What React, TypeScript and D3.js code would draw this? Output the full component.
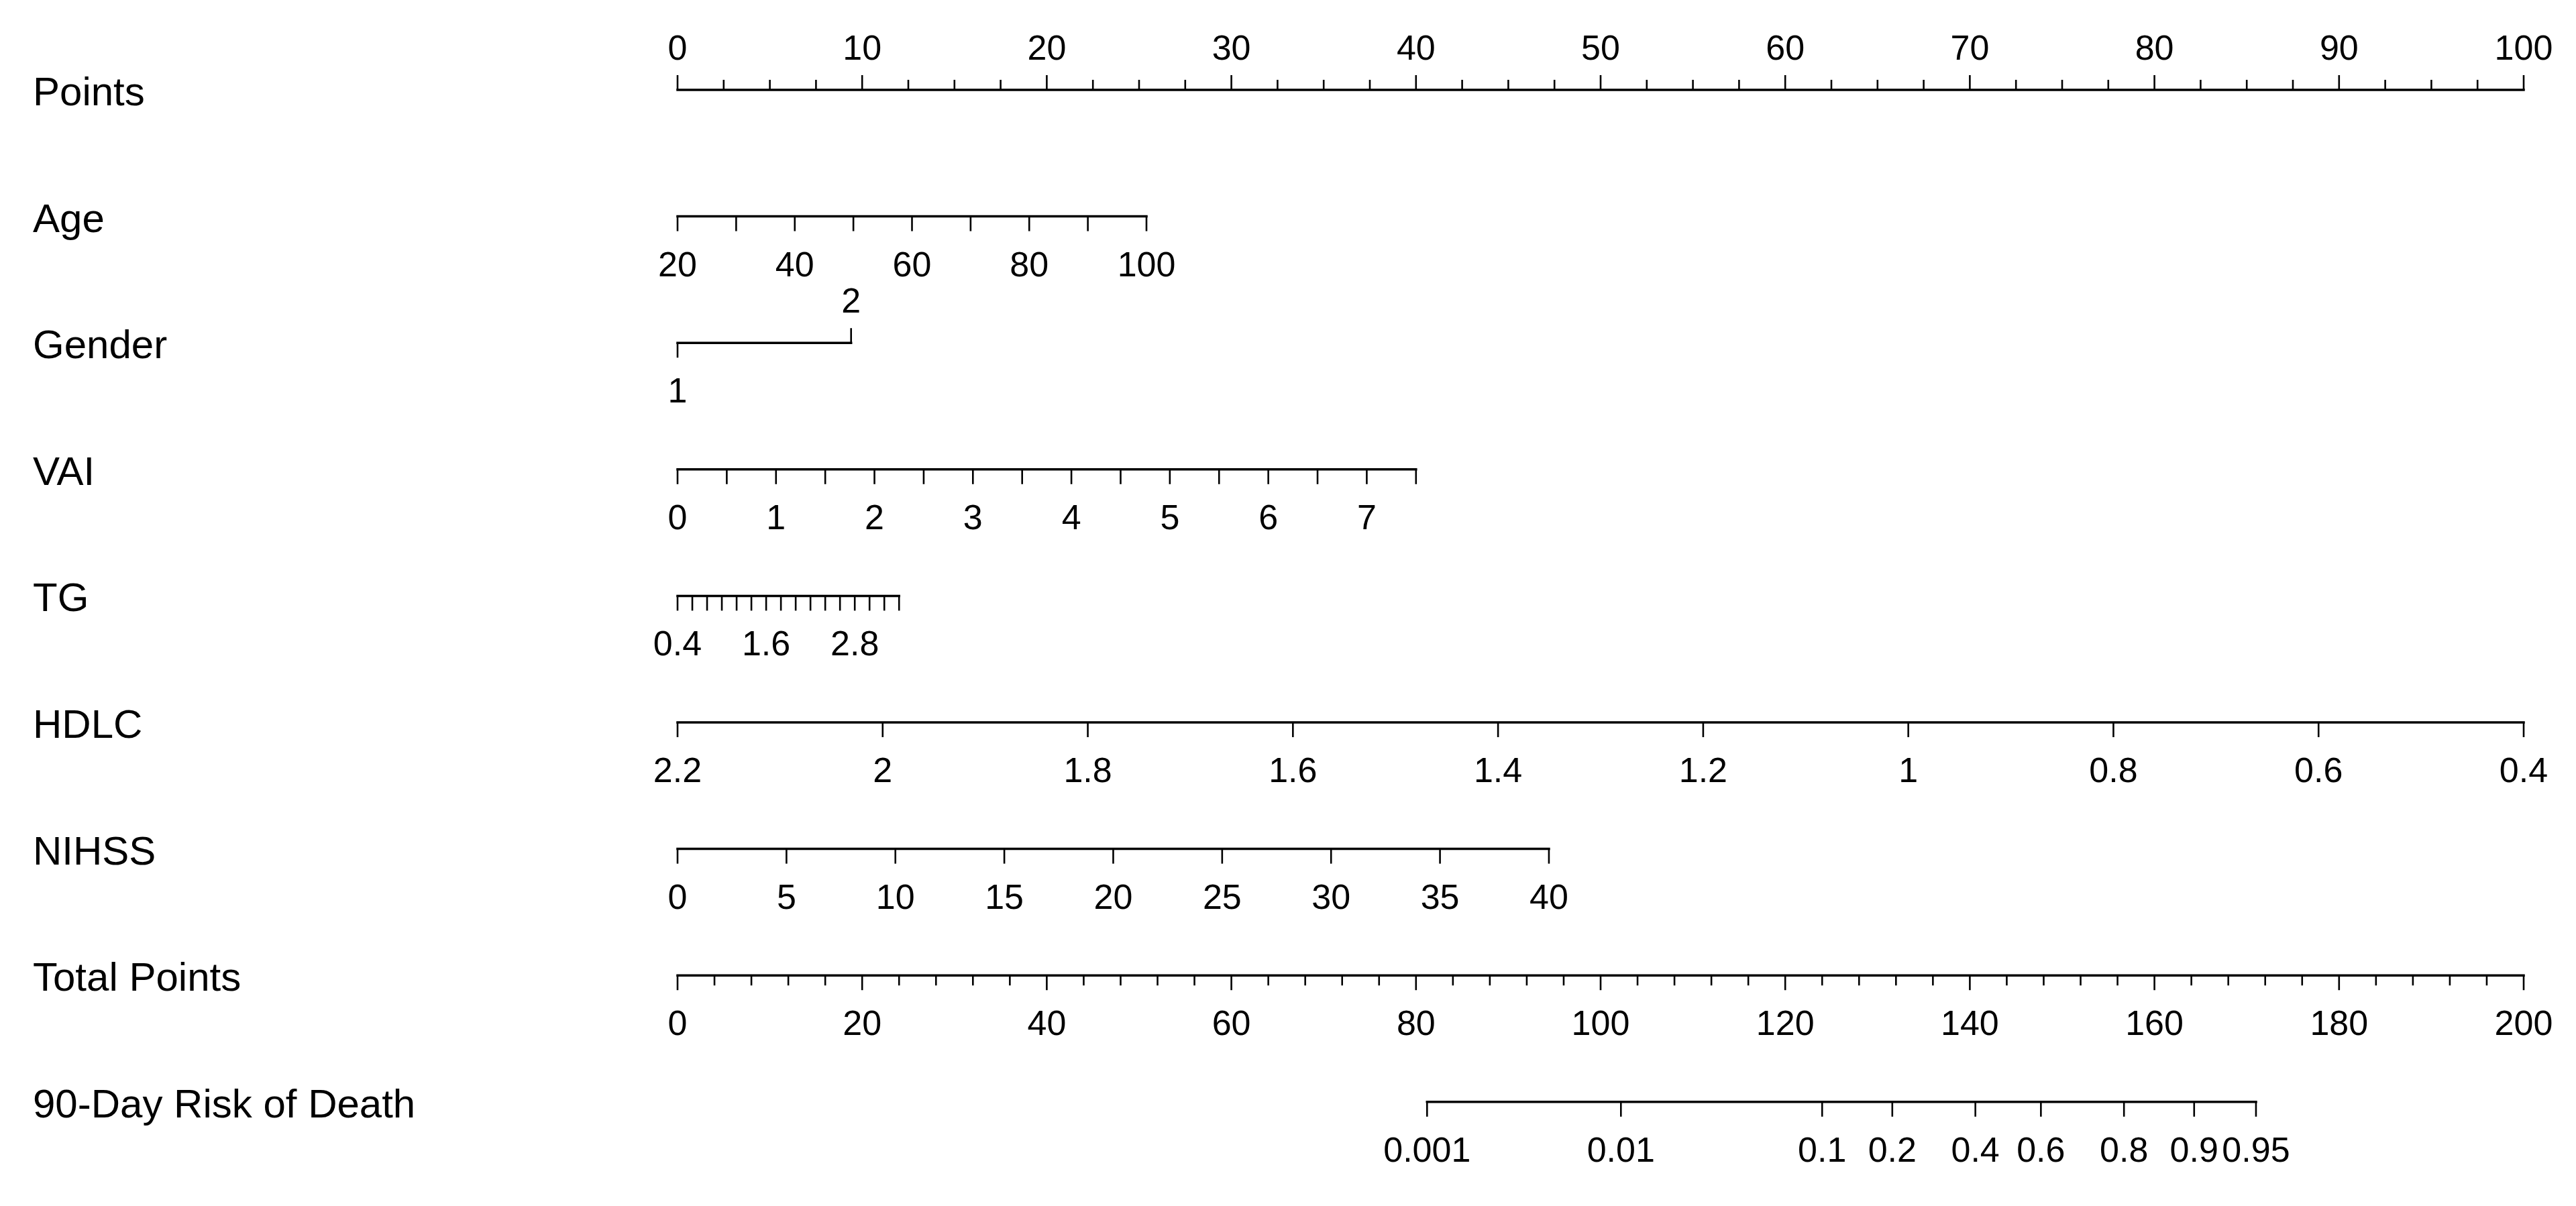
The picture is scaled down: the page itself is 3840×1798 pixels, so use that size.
import React from "react";
import * as d3 from "d3";

// ---------- data ----------
const rowLabels = ["Points", "Age", "Gender", "VAI", "TG", "HDLC", "NIHSS", "Total Points", "90-Day Risk of Death"];

const pointsRange = [0, 100];
const pointsMajor = [0, 10, 20, 30, 40, 50, 60, 70, 80, 90, 100];
const pointsMinorStep = 2.5;

const totalRange = [0, 200];
const totalMajor = [0, 20, 40, 60, 80, 100, 120, 140, 160, 180, 200];
const totalMinorStep = 4;

// value domain -> points domain
const ageDomain = [20, 100];
const agePoints = [0, 25.4];
const ageTicks = [20, 30, 40, 50, 60, 70, 80, 90, 100];
const ageLabels = [20, 40, 60, 80, 100];

const genderValues = [1, 2];
const genderPoints = [0, 9.4];

const vaiDomain = [0, 7.5];
const vaiPoints = [0, 40];
const vaiTicks = [0, 0.5, 1, 1.5, 2, 2.5, 3, 3.5, 4, 4.5, 5, 5.5, 6, 6.5, 7, 7.5];
const vaiLabels = [0, 1, 2, 3, 4, 5, 6, 7];

const tgDomain = [0.4, 3.4];
const tgPoints = [0, 12];
const tgTicks = [0.4, 0.6, 0.8, 1.0, 1.2, 1.4, 1.6, 1.8, 2.0, 2.2, 2.4, 2.6, 2.8, 3.0, 3.2, 3.4];
const tgLabels = [0.4, 1.6, 2.8];

const hdlcDomain = [2.2, 0.4];
const hdlcPoints = [0, 100];
const hdlcTicks = [2.2, 2.0, 1.8, 1.6, 1.4, 1.2, 1.0, 0.8, 0.6, 0.4];
const hdlcLabels = [2.2, 2.0, 1.8, 1.6, 1.4, 1.2, 1.0, 0.8, 0.6, 0.4];

const nihssDomain = [0, 40];
const nihssPoints = [0, 47.2];
const nihssTicks = [0, 5, 10, 15, 20, 25, 30, 35, 40];
const nihssLabels = [0, 5, 10, 15, 20, 25, 30, 35, 40];

const riskValues = [0.001, 0.01, 0.1, 0.2, 0.4, 0.6, 0.8, 0.9, 0.95];
const riskTotalPoints = [81.2, 102.2, 124.0, 131.6, 140.6, 147.7, 156.7, 164.3, 171.0];

// ---------- layout ----------
const W = 3840;
const H = 1798;
const X0 = 1010;
const X1 = 3762;
const ROW0 = 134;
const ROW_STEP = 188.6;
const FONT = "'Liberation Sans', Arial, sans-serif";
const LABEL_SIZE = 60;
const TICK_SIZE = 52;
const MAJOR = 22;
const MINOR = 15;
const BELOW = 89;
const ABOVE = 45;
const AXIS_W = 3.5;
const TICK_W = 2.6;

const xPts = d3.scaleLinear().domain(pointsRange).range([X0, X1]);
const xTot = d3.scaleLinear().domain(totalRange).range([X0, X1]);
const rowY = (i: number) => ROW0 + i * ROW_STEP;

const fmt = (v: number) => String(+v.toFixed(3));

type AxisProps = {
  y: number;
  scale: (v: number) => number;
  ticks: number[];
  labels: number[];
  labelText?: (v: number) => string;
};

function DownAxis({ y, scale, ticks, labels, labelText = fmt }: AxisProps) {
  const xs = ticks.map(scale);
  const lo = d3.min(xs) as number;
  const hi = d3.max(xs) as number;
  return (
    <g>
      <line x1={lo} x2={hi} y1={y} y2={y} stroke="#000" strokeWidth={AXIS_W} strokeLinecap="square" />
      {ticks.map((t, i) => (
        <line key={i} x1={scale(t)} x2={scale(t)} y1={y} y2={y + MAJOR} stroke="#000" strokeWidth={TICK_W} />
      ))}
      {labels.map((t, i) => (
        <text key={i} x={scale(t)} y={y + BELOW} textAnchor="middle" fontSize={TICK_SIZE} fontFamily={FONT} fill="#000">
          {labelText(t)}
        </text>
      ))}
    </g>
  );
}

export default function App() {
  const yPoints = rowY(0);
  const yTotal = rowY(7);
  const pointsMinor = d3.range(pointsRange[0], pointsRange[1] + 0.001, pointsMinorStep);
  const totalMinor = d3.range(totalRange[0], totalRange[1] + 0.001, totalMinorStep);

  const mk = (dom: number[], pts: number[]) =>
    d3.scaleLinear().domain(dom).range(pts.map((p) => xPts(p)));

  const ageX = mk(ageDomain, agePoints);
  const genderX = mk(genderValues, genderPoints);
  const vaiX = mk(vaiDomain, vaiPoints);
  const tgX = mk(tgDomain, tgPoints);
  const hdlcX = mk(hdlcDomain, hdlcPoints);
  const nihssX = mk(nihssDomain, nihssPoints);
  const riskX = (v: number) => xTot(riskTotalPoints[riskValues.indexOf(v)]);

  const yG = rowY(2);

  return (
    <svg
      width={W}
      height={H}
      viewBox={`0 0 ${W} ${H}`}
      style={{ position: "absolute", left: 0, top: 0, background: "#fff" }}
    >
      <rect width={W} height={H} fill="#fff" />
      {/* row labels */}
      {rowLabels.map((l, i) => (
        <text key={l} x={49} y={rowY(i) + 23} fontSize={LABEL_SIZE} fontFamily={FONT} fill="#000">
          {l}
        </text>
      ))}

      {/* Points axis (ticks up, labels above) */}
      <g>
        <line x1={xPts(0)} x2={xPts(100)} y1={yPoints} y2={yPoints} stroke="#000" strokeWidth={AXIS_W} strokeLinecap="square" />
        {pointsMinor.map((t, i) => {
          const major = pointsMajor.includes(t);
          return (
            <line key={i} x1={xPts(t)} x2={xPts(t)} y1={yPoints} y2={yPoints - (major ? MAJOR : MINOR)} stroke="#000" strokeWidth={TICK_W} />
          );
        })}
        {pointsMajor.map((t) => (
          <text key={t} x={xPts(t)} y={yPoints - ABOVE} textAnchor="middle" fontSize={TICK_SIZE} fontFamily={FONT} fill="#000">
            {t}
          </text>
        ))}
      </g>

      <DownAxis y={rowY(1)} scale={ageX} ticks={ageTicks} labels={ageLabels} />

      {/* Gender */}
      <g>
        <line x1={genderX(1)} x2={genderX(2)} y1={yG} y2={yG} stroke="#000" strokeWidth={AXIS_W} strokeLinecap="square" />
        <line x1={genderX(1)} x2={genderX(1)} y1={yG} y2={yG + MAJOR} stroke="#000" strokeWidth={TICK_W} />
        <line x1={genderX(2)} x2={genderX(2)} y1={yG} y2={yG - MAJOR} stroke="#000" strokeWidth={TICK_W} />
        <text x={genderX(1)} y={yG + BELOW} textAnchor="middle" fontSize={TICK_SIZE} fontFamily={FONT} fill="#000">
          {genderValues[0]}
        </text>
        <text x={genderX(2)} y={yG - ABOVE} textAnchor="middle" fontSize={TICK_SIZE} fontFamily={FONT} fill="#000">
          {genderValues[1]}
        </text>
      </g>

      <DownAxis y={rowY(3)} scale={vaiX} ticks={vaiTicks} labels={vaiLabels} />
      <DownAxis y={rowY(4)} scale={tgX} ticks={tgTicks} labels={tgLabels} />
      <DownAxis y={rowY(5)} scale={hdlcX} ticks={hdlcTicks} labels={hdlcLabels} />
      <DownAxis y={rowY(6)} scale={nihssX} ticks={nihssTicks} labels={nihssLabels} />

      {/* Total points */}
      <g>
        <line x1={xTot(0)} x2={xTot(200)} y1={yTotal} y2={yTotal} stroke="#000" strokeWidth={AXIS_W} strokeLinecap="square" />
        {totalMinor.map((t, i) => {
          const major = totalMajor.includes(t);
          return (
            <line key={i} x1={xTot(t)} x2={xTot(t)} y1={yTotal} y2={yTotal + (major ? MAJOR : MINOR)} stroke="#000" strokeWidth={TICK_W} />
          );
        })}
        {totalMajor.map((t) => (
          <text key={t} x={xTot(t)} y={yTotal + BELOW} textAnchor="middle" fontSize={TICK_SIZE} fontFamily={FONT} fill="#000">
            {t}
          </text>
        ))}
      </g>

      <DownAxis y={rowY(8)} scale={riskX} ticks={riskValues} labels={riskValues} />
    </svg>
  );
}
